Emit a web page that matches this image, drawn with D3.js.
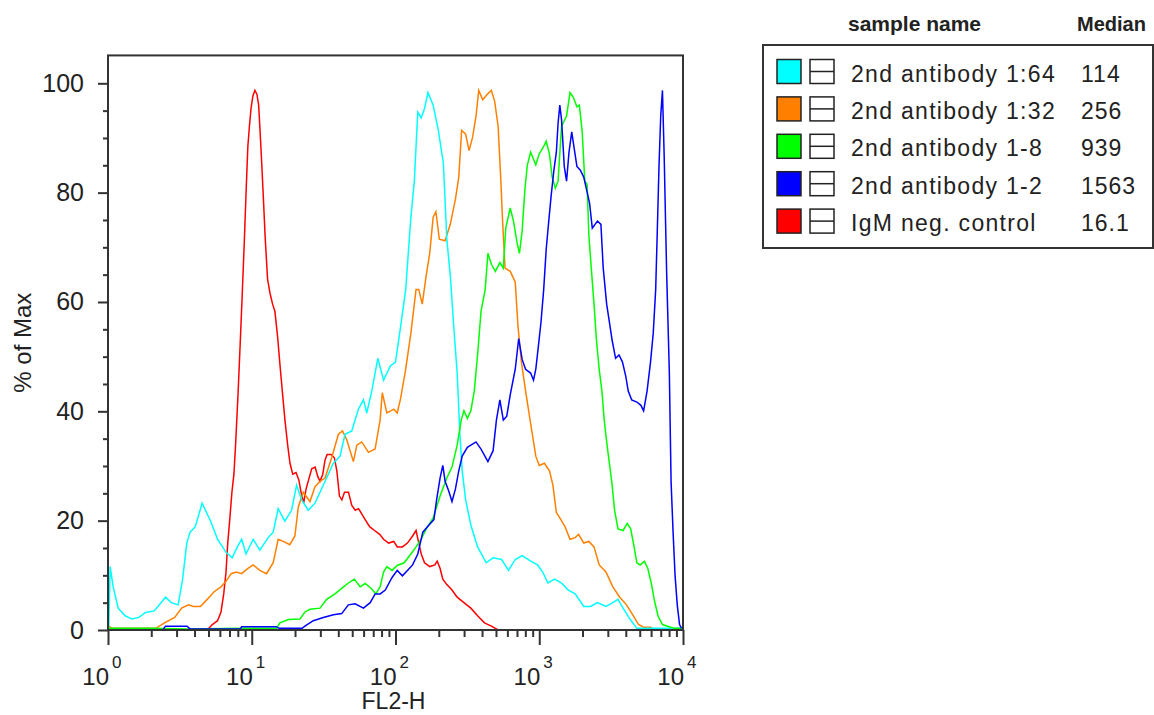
<!DOCTYPE html>
<html>
<head>
<meta charset="utf-8">
<script src="https://cdnjs.cloudflare.com/ajax/libs/d3/7.8.5/d3.min.js"></script>
<style>
  body { margin: 0; background: #fff; }
  svg { display: block; }
  text { font-family: "Liberation Sans", Arial, sans-serif; fill: #222; }
</style>
</head>
<body>
<script>
// legend table
const samples = ["2nd antibody 1:64", "2nd antibody 1:32", "2nd antibody 1-8", "2nd antibody 1-2", "IgM neg. control"];
const medians = ["114", "256", "939", "1563", "16.1"];
const colors = ["#00ffff", "#ff8000", "#00ff00", "#0000ff", "#ff0000"];

// axis ticks
const yTicks = [0, 20, 40, 60, 80, 100];
const yMinor = [5, 10, 15, 25, 30, 35, 45, 50, 55, 65, 70, 75, 85, 90, 95];
const xDecades = [0, 1, 2, 3, 4];

// histograms: [log10(FL2-H), % of Max]
const ab164 = [[0.005,0],[0.015,11.6],[0.036,7.9],[0.071,4.0],[0.119,2.6],[0.167,2.0],[0.214,2.3],[0.262,3.2],[0.321,3.5],[0.369,5.0],[0.4,6.0],[0.44,5.0],[0.488,4.6],[0.519,9.3],[0.548,15.9],[0.571,17.9],[0.607,18.9],[0.655,23.2],[0.714,19.9],[0.762,16.6],[0.821,14.2],[0.864,13.2],[0.9,15.2],[0.93,16.6],[0.96,13.9],[1.01,16.6],[1.056,14.6],[1.114,16.9],[1.149,17.9],[1.184,22.2],[1.23,19.9],[1.277,21.9],[1.312,26.5],[1.347,23.8],[1.393,21.9],[1.44,23.2],[1.51,27.2],[1.568,30.5],[1.614,31.8],[1.649,35.8],[1.696,36.4],[1.742,40.4],[1.777,42.1],[1.8,39.7],[1.835,43.7],[1.877,49.7],[1.917,45.7],[1.964,48.3],[2.0,49.0],[2.036,55.6],[2.071,62.3],[2.107,75.5],[2.131,82.1],[2.155,94.7],[2.179,93.7],[2.202,95.4],[2.226,98.3],[2.262,96.0],[2.298,91.4],[2.333,85.4],[2.357,71.5],[2.381,64.9],[2.405,55.6],[2.429,47.0],[2.448,35.8],[2.464,29.1],[2.488,23.8],[2.524,19.2],[2.571,15.2],[2.631,12.3],[2.679,13.2],[2.738,12.9],[2.786,10.9],[2.833,12.9],[2.881,13.6],[2.94,12.6],[2.988,11.9],[3.024,10.6],[3.06,8.6],[3.107,9.3],[3.155,8.6],[3.202,7.3],[3.25,6.6],[3.31,4.3],[3.357,4.3],[3.405,5.0],[3.464,4.3],[3.512,5.0],[3.548,5.6],[3.583,4.0],[3.631,2.0],[3.679,0.3],[3.99,0.3]];
const ab132 = [[0.005,0.7],[0.03,0.3],[0.333,0.3],[0.393,1.3],[0.464,2.3],[0.512,4.0],[0.56,4.6],[0.595,4.3],[0.643,4.3],[0.69,5.6],[0.738,7.0],[0.786,7.9],[0.821,8.9],[0.857,10.3],[0.893,10.6],[0.929,10.3],[0.976,11.3],[1.01,11.9],[1.056,10.9],[1.103,10.3],[1.149,12.3],[1.184,16.6],[1.219,16.2],[1.265,15.6],[1.3,17.2],[1.324,22.5],[1.358,25.2],[1.405,23.5],[1.44,26.2],[1.475,27.2],[1.51,27.8],[1.556,31.5],[1.603,35.8],[1.631,36.4],[1.661,34.8],[1.707,30.8],[1.731,33.8],[1.765,34.4],[1.812,32.5],[1.858,33.1],[1.893,38.4],[1.908,43.4],[1.94,39.7],[1.988,40.4],[2.012,39.7],[2.036,42.4],[2.071,47.7],[2.107,54.3],[2.143,62.3],[2.162,62.3],[2.186,59.6],[2.214,64.9],[2.238,68.9],[2.262,75.5],[2.281,76.5],[2.305,71.5],[2.345,71.2],[2.381,74.2],[2.417,78.8],[2.44,82.8],[2.46,91.4],[2.488,90.7],[2.512,87.7],[2.536,90.1],[2.56,94.0],[2.579,98.7],[2.607,97.0],[2.638,98.0],[2.667,98.7],[2.69,96.7],[2.714,92.1],[2.733,82.1],[2.745,74.8],[2.762,66.2],[2.798,65.6],[2.833,63.6],[2.852,55.6],[2.876,49.0],[2.905,43.7],[2.935,38.6],[2.952,35.8],[2.976,31.8],[3.0,30.1],[3.036,30.5],[3.071,29.1],[3.095,26.5],[3.119,21.5],[3.143,20.5],[3.179,18.9],[3.214,16.6],[3.25,16.9],[3.274,17.5],[3.31,15.9],[3.345,16.2],[3.381,15.2],[3.417,11.9],[3.464,10.6],[3.512,7.9],[3.56,6.0],[3.607,4.6],[3.655,2.6],[3.69,1.0],[3.726,0.5],[3.774,0.5],[3.798,0.1],[3.99,0.1]];
const ab18 = [[0.005,0.3],[0.3,0.3],[0.55,0.2],[0.93,0.3],[1.172,0.3],[1.196,1.3],[1.254,1.9],[1.335,2.0],[1.37,3.3],[1.405,3.8],[1.475,4.0],[1.521,5.6],[1.579,6.6],[1.626,7.6],[1.672,8.6],[1.714,9.3],[1.754,7.9],[1.789,8.5],[1.831,7.6],[1.863,6.6],[1.893,7.9],[1.917,10.6],[1.94,11.6],[1.976,10.9],[2.012,11.8],[2.06,12.3],[2.107,13.9],[2.143,15.2],[2.179,16.6],[2.214,18.5],[2.262,20.5],[2.31,24.5],[2.357,27.8],[2.393,29.8],[2.429,33.8],[2.457,38.4],[2.476,40.1],[2.5,38.7],[2.524,40.1],[2.548,43.7],[2.571,50.3],[2.595,58.3],[2.624,62.3],[2.643,68.9],[2.667,66.9],[2.695,65.6],[2.726,67.2],[2.75,66.2],[2.767,73.5],[2.798,77.2],[2.821,74.8],[2.845,70.9],[2.862,68.9],[2.881,73.0],[2.9,80.5],[2.917,85.0],[2.94,87.4],[2.976,85.1],[3.0,87.1],[3.036,88.7],[3.048,89.4],[3.071,87.1],[3.09,82.8],[3.112,80.8],[3.131,82.1],[3.155,92.1],[3.19,94.0],[3.214,98.3],[3.238,97.4],[3.262,95.7],[3.279,96.0],[3.298,91.4],[3.317,82.1],[3.333,81.5],[3.345,72.2],[3.362,66.2],[3.381,59.6],[3.398,53.0],[3.417,47.7],[3.436,43.7],[3.452,38.4],[3.469,34.4],[3.488,30.5],[3.507,26.5],[3.524,21.9],[3.548,18.5],[3.583,18.2],[3.612,19.5],[3.636,18.5],[3.655,15.9],[3.679,12.3],[3.702,11.9],[3.731,12.6],[3.755,11.3],[3.779,8.6],[3.802,5.3],[3.826,2.6],[3.857,1.0],[3.893,0.7],[3.94,0.3],[3.99,0.3]];
const ab12 = [[0.005,0],[0.38,0],[0.4,0.7],[0.55,0.7],[0.57,0.2],[0.92,0.2],[0.93,0.6],[1.17,0.6],[1.19,0.3],[1.35,0.3],[1.37,0.7],[1.428,1.7],[1.498,2.3],[1.568,2.8],[1.626,3.0],[1.672,4.6],[1.719,4.8],[1.777,4.0],[1.824,5.0],[1.858,6.6],[1.893,6.6],[1.929,7.3],[1.976,9.6],[2.012,10.9],[2.048,9.9],[2.083,10.9],[2.119,11.9],[2.155,13.9],[2.19,17.9],[2.233,19.2],[2.267,20.2],[2.286,23.8],[2.31,27.8],[2.329,30.1],[2.345,27.2],[2.369,25.5],[2.393,23.5],[2.417,25.8],[2.44,29.1],[2.464,31.8],[2.5,33.4],[2.56,34.4],[2.595,33.1],[2.643,30.8],[2.679,32.8],[2.702,38.4],[2.726,42.1],[2.75,38.4],[2.774,39.1],[2.798,43.0],[2.833,47.7],[2.857,53.3],[2.881,49.5],[2.905,47.7],[2.94,47.0],[2.96,45.7],[2.976,47.7],[2.993,51.7],[3.012,56.3],[3.031,62.3],[3.048,69.5],[3.064,74.2],[3.083,79.5],[3.102,84.1],[3.119,87.4],[3.131,92.7],[3.143,96.0],[3.155,93.4],[3.174,84.8],[3.19,82.1],[3.207,87.4],[3.226,91.1],[3.243,88.1],[3.262,84.8],[3.286,84.1],[3.31,82.8],[3.333,80.1],[3.35,78.1],[3.369,73.5],[3.388,74.2],[3.405,74.8],[3.429,74.2],[3.445,66.2],[3.469,59.6],[3.488,56.3],[3.507,53.0],[3.531,49.7],[3.555,50.3],[3.579,49.0],[3.602,46.4],[3.619,43.7],[3.643,42.1],[3.679,41.7],[3.707,41.1],[3.726,40.1],[3.75,43.7],[3.774,49.0],[3.793,54.3],[3.81,62.3],[3.821,72.8],[3.833,84.8],[3.845,94.0],[3.857,98.7],[3.869,86.8],[3.886,65.6],[3.905,47.0],[3.917,27.2],[3.931,17.9],[3.945,9.9],[3.96,4.6],[3.976,1.0],[3.99,0.3]];
const igm = [[0.005,0],[0.69,0],[0.726,1.0],[0.762,1.7],[0.786,3.3],[0.805,6.6],[0.821,10.6],[0.833,15.9],[0.848,20.5],[0.862,25.2],[0.876,28.5],[0.888,34.1],[0.905,43.4],[0.919,52.0],[0.933,60.9],[0.948,70.9],[0.962,81.1],[0.973,88.5],[0.985,92.5],[0.995,95.4],[1.008,97.7],[1.022,98.7],[1.036,98.0],[1.048,96.0],[1.057,91.7],[1.068,86.1],[1.08,79.5],[1.094,71.5],[1.11,64.2],[1.127,61.6],[1.145,59.6],[1.161,58.3],[1.18,53.6],[1.199,47.7],[1.215,43.0],[1.231,38.4],[1.25,33.8],[1.266,30.5],[1.285,28.5],[1.308,28.8],[1.327,27.5],[1.343,25.2],[1.361,23.2],[1.378,25.8],[1.396,27.5],[1.417,29.5],[1.441,29.8],[1.459,28.1],[1.475,27.2],[1.494,28.5],[1.51,31.1],[1.524,32.1],[1.552,32.1],[1.575,31.5],[1.592,29.1],[1.61,24.5],[1.627,23.8],[1.645,25.2],[1.673,25.2],[1.696,22.8],[1.72,21.9],[1.743,22.2],[1.766,21.2],[1.789,20.2],[1.82,18.9],[1.854,18.2],[1.89,17.5],[1.917,16.6],[1.952,15.9],[1.988,16.2],[2.012,15.2],[2.048,15.2],[2.083,15.9],[2.119,17.2],[2.143,18.2],[2.162,15.9],[2.179,13.9],[2.202,12.3],[2.238,11.6],[2.274,11.9],[2.29,12.6],[2.31,11.3],[2.329,9.3],[2.357,8.3],[2.393,7.3],[2.429,6.0],[2.476,5.0],[2.524,4.0],[2.571,2.6],[2.619,1.3],[2.667,0.7],[2.714,0],[3.99,0]];

const series = [ab164, ab132, ab18, ab12, igm];
const drawOrder = [4, 1, 0, 2, 3];

const w = 1154, h = 715;
const plotLeft = 108, plotRight = 683, plotBottom = 630;

const svg = d3.select("body").append("svg")
    .attr("width", w)
    .attr("height", h);

const x = d3.scaleLog().domain([1, 1e4]).range([plotLeft, plotRight]);
const y = d3.scaleLinear().domain([0, 100]).range([plotBottom, 83.3]);
const plotTop = y(105.1);

// curves
svg.append("clipPath").attr("id", "plot")
    .append("rect")
    .attr("x", plotLeft).attr("y", plotTop)
    .attr("width", plotRight - plotLeft).attr("height", plotBottom - plotTop);

const line = d3.line()
    .x(d => x(Math.pow(10, d[0])))
    .y(d => y(d[1]));

svg.append("g")
    .attr("clip-path", "url(#plot)")
    .selectAll("path")
    .data(drawOrder)
    .enter()
    .append("path")
    .attr("d", i => line(series[i]))
    .attr("fill", "none")
    .attr("stroke", i => colors[i])
    .attr("stroke-width", 1.5);

// frame
svg.append("rect")
    .attr("x", plotLeft).attr("y", plotTop)
    .attr("width", plotRight - plotLeft).attr("height", plotBottom - plotTop)
    .attr("fill", "none")
    .attr("stroke", "#333")
    .attr("stroke-width", 2);

// x axis
const xMinor = [];
xDecades.slice(0, -1).forEach(d => {
    for (let k = 2; k <= 9; k++) xMinor.push(k * Math.pow(10, d));
});
const xMajor = xDecades.map(d => Math.pow(10, d));

function styleAxis(g) {
    g.select(".domain").remove();
    g.selectAll("line").attr("stroke", "#333").attr("stroke-width", 2);
}

svg.append("g")
    .attr("transform", "translate(0," + plotBottom + ")")
    .call(d3.axisBottom(x).tickValues(xMinor).tickSize(7).tickFormat(""))
    .call(styleAxis);
svg.append("g")
    .attr("transform", "translate(0," + plotBottom + ")")
    .call(d3.axisBottom(x).tickValues(xMajor).tickSize(15).tickFormat(""))
    .call(styleAxis);

// "10" with a raised exponent under each decade
const xLab = svg.append("g").selectAll("g")
    .data(xDecades)
    .enter()
    .append("g");
xLab.append("text")
    .attr("x", d => x(Math.pow(10, d)) + 1)
    .attr("y", 685)
    .attr("text-anchor", "end")
    .style("font-size", "24px")
    .text("10");
xLab.append("text")
    .attr("x", d => x(Math.pow(10, d)) + 4)
    .attr("y", 668)
    .style("font-size", "17px")
    .text(d => d);

svg.append("text")
    .attr("x", (plotLeft + plotRight) / 2 - 2)
    .attr("y", 709)
    .attr("text-anchor", "middle")
    .style("font-size", "23px")
    .text("FL2-H");

// y axis
svg.append("g")
    .attr("transform", "translate(" + plotLeft + ",0)")
    .call(d3.axisLeft(y).tickValues(yMinor).tickSize(5).tickFormat(""))
    .call(styleAxis);
svg.append("g")
    .attr("transform", "translate(" + plotLeft + ",0)")
    .call(d3.axisLeft(y).tickValues(yTicks).tickSize(10).tickPadding(14))
    .call(styleAxis)
    .call(g => g.selectAll("text")
        .style("font-size", "25px")
        .style("font-family", "'Liberation Sans', Arial, sans-serif")
        .attr("fill", "#222"));

svg.append("text")
    .attr("transform", "translate(31," + ((plotTop + plotBottom) / 2) + ") rotate(-90)")
    .attr("text-anchor", "middle")
    .style("font-size", "24px")
    .text("% of Max");

// legend
const legend = svg.append("g");
legend.append("text")
    .attr("x", 914.5).attr("y", 31)
    .attr("text-anchor", "middle")
    .style("font-size", "21px").style("font-weight", "bold")
    .text("sample name");
legend.append("text")
    .attr("x", 1077).attr("y", 31)
    .style("font-size", "20px").style("font-weight", "bold")
    .text("Median");

legend.append("rect")
    .attr("x", 763).attr("y", 45)
    .attr("width", 390).attr("height", 203)
    .attr("fill", "#fff")
    .attr("stroke", "#333")
    .attr("stroke-width", 2);

const rows = legend.selectAll("g.row")
    .data(samples)
    .enter()
    .append("g")
    .attr("class", "row")
    .attr("transform", (d, i) => "translate(0," + (59.5 + i * 37.4) + ")");

rows.append("rect")
    .attr("x", 777).attr("y", 0)
    .attr("width", 24).attr("height", 24)
    .attr("fill", (d, i) => colors[i])
    .attr("stroke", "#222").attr("stroke-width", 1.5);
rows.append("rect")
    .attr("x", 810).attr("y", 0)
    .attr("width", 24).attr("height", 24)
    .attr("fill", "#fff")
    .attr("stroke", "#222").attr("stroke-width", 1.5);
rows.append("line")
    .attr("x1", 810).attr("x2", 834)
    .attr("y1", 12).attr("y2", 12)
    .attr("stroke", "#222").attr("stroke-width", 1.5);
rows.append("text")
    .attr("x", 851).attr("y", 22)
    .style("font-size", "23px").style("letter-spacing", "1.3px")
    .text(d => d);
rows.append("text")
    .attr("x", 1081).attr("y", 22)
    .style("font-size", "23px").style("letter-spacing", "1px")
    .text((d, i) => medians[i]);
</script>
</body>
</html>
